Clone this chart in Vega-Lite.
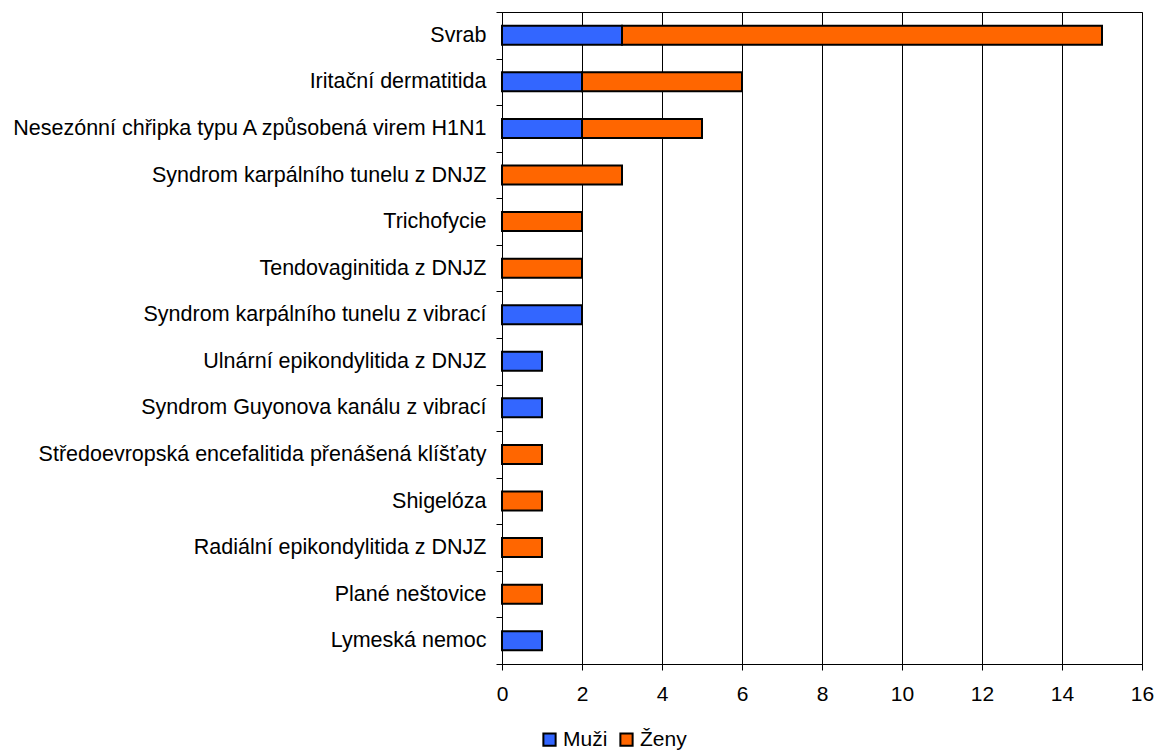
{
  "$schema": "https://vega.github.io/schema/vega-lite/v6.json",
  "width": 640,
  "height": 652,
  "autosize": {"type": "none"},
  "padding": {"left": 502, "top": 12, "right": 14, "bottom": 88},
  "background": "white",
  "config": {
    "font": "Liberation Sans",
    "view": {"stroke": "black", "strokeWidth": 1},
    "axis": {"labelFont": "Liberation Sans", "labelColor": "black", "domainColor": "black", "tickColor": "black"}
  },
  "data": {
    "values": [
      {"diagnoza": "Svrab", "pohlavi": "Muži", "pocet": 3},
      {"diagnoza": "Svrab", "pohlavi": "Ženy", "pocet": 12},
      {"diagnoza": "Iritační dermatitida", "pohlavi": "Muži", "pocet": 2},
      {"diagnoza": "Iritační dermatitida", "pohlavi": "Ženy", "pocet": 4},
      {"diagnoza": "Nesezónní chřipka typu A způsobená virem H1N1", "pohlavi": "Muži", "pocet": 2},
      {"diagnoza": "Nesezónní chřipka typu A způsobená virem H1N1", "pohlavi": "Ženy", "pocet": 3},
      {"diagnoza": "Syndrom karpálního tunelu z DNJZ", "pohlavi": "Ženy", "pocet": 3},
      {"diagnoza": "Trichofycie", "pohlavi": "Ženy", "pocet": 2},
      {"diagnoza": "Tendovaginitida z DNJZ", "pohlavi": "Ženy", "pocet": 2},
      {"diagnoza": "Syndrom karpálního tunelu z vibrací", "pohlavi": "Muži", "pocet": 2},
      {"diagnoza": "Ulnární epikondylitida z DNJZ", "pohlavi": "Muži", "pocet": 1},
      {"diagnoza": "Syndrom Guyonova kanálu z vibrací", "pohlavi": "Muži", "pocet": 1},
      {"diagnoza": "Středoevropská encefalitida přenášená klíšťaty", "pohlavi": "Ženy", "pocet": 1},
      {"diagnoza": "Shigelóza", "pohlavi": "Ženy", "pocet": 1},
      {"diagnoza": "Radiální epikondylitida z DNJZ", "pohlavi": "Ženy", "pocet": 1},
      {"diagnoza": "Plané neštovice", "pohlavi": "Ženy", "pocet": 1},
      {"diagnoza": "Lymeská nemoc", "pohlavi": "Muži", "pocet": 1}
    ]
  },
  "mark": {"type": "bar", "size": 19, "stroke": "black", "strokeWidth": 2},
  "encoding": {
    "y": {
      "field": "diagnoza",
      "type": "nominal",
      "title": null,
      "scale": {
        "domain": ["Svrab", "Iritační dermatitida", "Nesezónní chřipka typu A způsobená virem H1N1", "Syndrom karpálního tunelu z DNJZ", "Trichofycie", "Tendovaginitida z DNJZ", "Syndrom karpálního tunelu z vibrací", "Ulnární epikondylitida z DNJZ", "Syndrom Guyonova kanálu z vibrací", "Středoevropská encefalitida přenášená klíšťaty", "Shigelóza", "Radiální epikondylitida z DNJZ", "Plané neštovice", "Lymeská nemoc"],
        "paddingInner": 0,
        "paddingOuter": 0
      },
      "axis": {"labelFontSize": 21.5, "labelPadding": 10, "tickBand": "extent", "tickSize": 6, "grid": false, "labelLimit": 600}
    },
    "x": {
      "field": "pocet",
      "type": "quantitative",
      "stack": "zero",
      "title": null,
      "scale": {"domain": [0, 16], "nice": false},
      "axis": {"values": [0, 2, 4, 6, 8, 10, 12, 14, 16], "labelFontSize": 21, "labelFlush": false, "labelPadding": 13, "tickSize": 6, "grid": true, "gridColor": "black", "gridOpacity": 1, "gridWidth": 1}
    },
    "color": {
      "field": "pohlavi",
      "type": "nominal",
      "scale": {"domain": ["Muži", "Ženy"], "range": ["#3366FF", "#FF6600"]},
      "legend": {
        "title": null,
        "orient": "none",
        "direction": "horizontal",
        "legendX": 37,
        "legendY": 717,
        "symbolType": "square",
        "symbolSize": 150,
        "symbolStrokeColor": "black",
        "symbolStrokeWidth": 2,
        "symbolOpacity": 1,
        "labelFontSize": 21,
        "labelColor": "black",
        "labelOffset": 3,
        "columnPadding": 8
      }
    },
    "order": {"field": "pohlavi", "sort": "ascending"}
  }
}
